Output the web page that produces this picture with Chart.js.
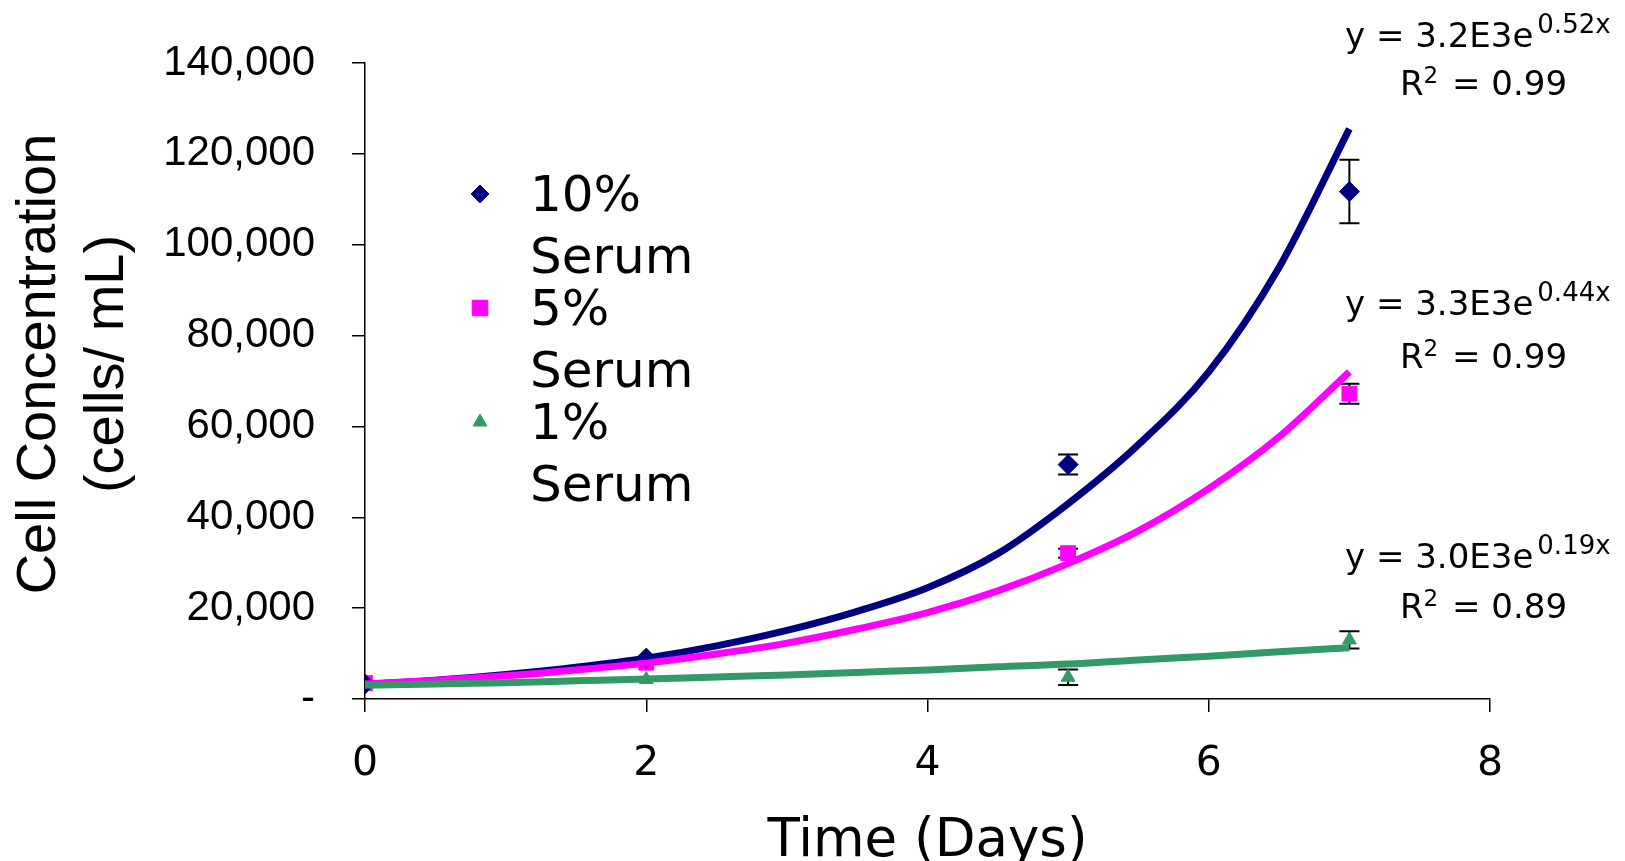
<!DOCTYPE html>
<html>
<head>
<meta charset="utf-8">
<script src="https://cdn.jsdelivr.net/npm/chart.js@4.4.1/dist/chart.umd.min.js"></script>
<style>
html, body { margin: 0; padding: 0; background: #fff; }
#wrap { width: 1625px; height: 861px; }
</style>
</head>
<body>
<div id="wrap"><canvas id="growthChart" width="1625" height="861"></canvas></div>
<script>
// measured days and means
const days = [0, 2, 5, 7];
const serum10 = [3300, 9000, 51600, 111700];
const serum10Err = [0, 0, 2200, 7000];
const serum5 = [3500, 8000, 32100, 67200];
const serum5Err = [0, 0, 1000, 2200];
const serum1 = [3300, 4300, 4800, 13000];
const serum1Err = [0, 0, 1700, 1900];

// exponential trendlines
const trendDays = [0, 0.5, 1, 1.5, 2, 2.5, 3, 3.5, 4, 4.5, 5, 5.5, 6, 6.5, 7];
const trend10 = [3200, 4150, 5400, 7000, 9000, 11700, 15100, 19300, 24500, 32000, 43000, 56000, 72000, 95000, 125500];
const trend5 = [3300, 4100, 5100, 6400, 7900, 9900, 12300, 15400, 19000, 23800, 29800, 37000, 46300, 57700, 72000];
const trend1 = [3000, 3300, 3600, 4000, 4400, 4850, 5300, 5850, 6400, 7100, 7700, 8600, 9400, 10400, 11300];

const legendNames = [['10%', 'Serum'], ['5%', 'Serum'], ['1%', 'Serum']];
const fitCoef = ['3.2E3', '3.3E3', '3.0E3'];
const fitExp = ['0.52x', '0.44x', '0.19x'];
const fitR2 = ['0.99', '0.99', '0.89'];
const yTitle = ['Cell Concentration', '(cells/ mL)'];

const navy = '#000080', magenta = '#FF00FF', green = '#339966';
const colors = [navy, magenta, green];
const styles = ['rectRot', 'rect', 'triangle'];

function pts(xs, ys) {
    return xs.map(function (x, i) { return { x: x, y: ys[i] }; });
}

const series = [serum10, serum5, serum1];
const errs = [serum10Err, serum5Err, serum1Err];

const extras = {
    id: 'extras',
    beforeDatasetsDraw: function (chart) {
        // error bars (under the markers)
        const ctx = chart.ctx, xs = chart.scales.x, ys = chart.scales.y;
        ctx.save();
        ctx.strokeStyle = '#000';
        ctx.lineWidth = 2;
        series.forEach(function (s, k) {
            s.forEach(function (v, i) {
                const e = errs[k][i];
                if (!e) return;
                const px = xs.getPixelForValue(days[i]);
                const top = ys.getPixelForValue(v + e);
                const bot = ys.getPixelForValue(v - e);
                ctx.beginPath();
                ctx.moveTo(px, top); ctx.lineTo(px, bot);
                ctx.moveTo(px - 10, top); ctx.lineTo(px + 10, top);
                ctx.moveTo(px - 10, bot); ctx.lineTo(px + 10, bot);
                ctx.stroke();
            });
        });
        ctx.restore();
    },
    afterDraw: function (chart) {
        const ctx = chart.ctx;
        ctx.save();
        ctx.fillStyle = '#000';
        ctx.textBaseline = 'alphabetic';
        ctx.textAlign = 'left';

        // y axis title, two lines, rotated
        ctx.save();
        ctx.translate(0, 364);
        ctx.rotate(-Math.PI / 2);
        ctx.textAlign = 'center';
        ctx.textBaseline = 'middle';
        ctx.font = '56px "Liberation Sans"';
        ctx.fillText(yTitle[0], 0, 40);
        ctx.fillText(yTitle[1], 0, 108);
        ctx.restore();

        // legend
        const markY = [194, 308, 422];
        const radii = [9, 11, 8];
        legendNames.forEach(function (lines, k) {
            ctx.fillStyle = colors[k];
            ctx.strokeStyle = colors[k];
            Chart.helpers.drawPoint(ctx, { pointStyle: styles[k], radius: radii[k], borderWidth: 1 }, 480, markY[k]);
            ctx.fillStyle = '#000';
            ctx.font = '50px "DejaVu Sans"';
            ctx.fillText(lines[0], 530, markY[k] + 17);
            ctx.fillText(lines[1], 530, markY[k] + 79);
        });

        // trendline equations
        const eqY = [47, 315, 568];
        const r2Y = [95, 368, 618];
        for (let k = 0; k < 3; k++) {
            ctx.font = '34px "DejaVu Sans"';
            const main = 'y = ' + fitCoef[k] + 'e';
            ctx.fillText(main, 1345, eqY[k]);
            const w = ctx.measureText(main).width;
            ctx.font = '26px "DejaVu Sans"';
            ctx.fillText(fitExp[k], 1345 + w + 4, eqY[k] - 14);

            ctx.font = '34px "DejaVu Sans"';
            ctx.fillText('R', 1400, r2Y[k]);
            const rw = ctx.measureText('R').width;
            ctx.font = '23px "DejaVu Sans"';
            ctx.fillText('2', 1400 + rw, r2Y[k] - 12);
            const sw = ctx.measureText('2').width;
            ctx.font = '34px "DejaVu Sans"';
            ctx.fillText(' = ' + fitR2[k], 1400 + rw + sw + 3, r2Y[k]);
        }
        ctx.restore();
    }
};

const ctx = document.getElementById('growthChart').getContext('2d');
new Chart(ctx, {
    type: 'scatter',
    data: {
        datasets: [
            { label: '10% Serum', data: pts(days, serum10), pointStyle: 'rectRot', pointRadius: 10,
              backgroundColor: navy, borderColor: navy, borderWidth: 1, order: 5 },
            { label: '5% Serum', data: pts(days, serum5), pointStyle: 'rect', pointRadius: 10.5,
              backgroundColor: magenta, borderColor: magenta, borderWidth: 1, order: 5 },
            { label: '1% Serum', data: pts(days, serum1), pointStyle: 'triangle', pointRadius: 8,
              backgroundColor: green, borderColor: green, borderWidth: 1, order: 5 },
            { type: 'line', label: 'fit 10', data: pts(trendDays, trend10), borderColor: navy, borderWidth: 7,
              pointRadius: 0, fill: false, cubicInterpolationMode: 'monotone', order: 3 },
            { type: 'line', label: 'fit 5', data: pts(trendDays, trend5), borderColor: magenta, borderWidth: 7,
              pointRadius: 0, fill: false, cubicInterpolationMode: 'monotone', order: 2 },
            { type: 'line', label: 'fit 1', data: pts(trendDays, trend1), borderColor: green, borderWidth: 7,
              pointRadius: 0, fill: false, cubicInterpolationMode: 'monotone', order: 1 }
        ]
    },
    options: {
        responsive: false,
        animation: false,
        devicePixelRatio: 1,
        layout: { padding: { top: 63, right: 135, left: 0, bottom: 0 } },
        plugins: {
            legend: { display: false },
            tooltip: { enabled: false }
        },
        scales: {
            x: {
                type: 'linear',
                min: 0, max: 8,
                ticks: { stepSize: 2, color: '#000', padding: 28, font: { family: 'DejaVu Sans', size: 41 } },
                grid: { drawOnChartArea: false, tickLength: 13, color: '#000', lineWidth: 1.5 },
                border: { color: '#000', width: 1.5 },
                title: { display: true, text: 'Time (Days)', color: '#000', padding: 0,
                         font: { family: 'DejaVu Sans', size: 53, lineHeight: 0.7 } },
                afterFit: function (s) { s.height = 162; }
            },
            y: {
                min: 0, max: 140000,
                ticks: {
                    stepSize: 20000, color: '#000', padding: 37,
                    font: { family: 'Liberation Sans', size: 42 },
                    callback: function (value) { return value === 0 ? '-' : value.toLocaleString('en-US'); }
                },
                grid: { drawOnChartArea: false, tickLength: 13, color: '#000', lineWidth: 1.5 },
                border: { color: '#000', width: 1.5 },
                title: { display: false },
                afterFit: function (s) { s.width = 365; }
            }
        }
    },
    plugins: [extras]
});
</script>
</body>
</html>
